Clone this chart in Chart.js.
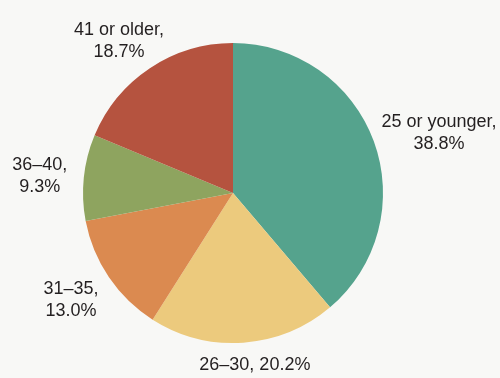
<!DOCTYPE html>
<html>
<head>
<meta charset="utf-8">
<script src="https://cdn.jsdelivr.net/npm/chart.js@4/dist/chart.umd.min.js"></script>
<style>
  html, body { margin: 0; padding: 0; background: #f8f8f6; }
  #wrap { width: 500px; height: 378px; position: relative; }
</style>
</head>
<body>
<div id="wrap"><canvas id="c" width="500" height="378"></canvas></div>
<script>
const categories = ["25 or younger", "26–30", "31–35", "36–40", "41 or older"];
const shares = [38.8, 20.2, 13.0, 9.3, 18.7];
const labelLines = [
  ["25 or younger,", "38.8%"],
  ["26–30, 20.2%"],
  ["31–35,", "13.0%"],
  ["36–40,", "9.3%"],
  ["41 or older,", "18.7%"]
];
const sliceColors = ["#55a38d", "#ecca7d", "#db8a50", "#8ea45f", "#b5533f"];

// label placement: angle tweak (degrees) relative to slice mid-angle, distance as ratio of radius
const labelPlacement = [
  { dAng: 4.0, k: 1.43 },
  { dAng: -3.3, k: 1.153 },
  { dAng: 0.8, k: 1.293 },
  { dAng: -0.9, k: 1.293 },
  { dAng: -3.2, k: 1.267 }
];

const outsideLabels = {
  id: 'outsideLabels',
  afterDatasetsDraw(chart) {
    const ctx = chart.ctx;
    const meta = chart.getDatasetMeta(0);
    ctx.save();
    ctx.fillStyle = '#231f20';
    ctx.font = '18px "Liberation Sans", Arial, sans-serif';
    ctx.textAlign = 'center';
    ctx.textBaseline = 'middle';
    meta.data.forEach((arc, i) => {
      const p = arc.getProps(['x', 'y', 'startAngle', 'endAngle', 'outerRadius'], true);
      const mid = (p.startAngle + p.endAngle) / 2 + labelPlacement[i].dAng * Math.PI / 180;
      const d = p.outerRadius * labelPlacement[i].k;
      const cx = p.x + Math.cos(mid) * d;
      const cy = p.y + Math.sin(mid) * d;
      const lines = labelLines[i];
      const lh = 22;
      const y0 = cy - (lines.length - 1) * lh / 2;
      lines.forEach((t, j) => ctx.fillText(t, cx, y0 + j * lh));
    });
    ctx.restore();
  }
};

new Chart(document.getElementById('c'), {
  type: 'pie',
  data: {
    labels: categories,
    datasets: [{
      data: shares,
      backgroundColor: sliceColors,
      borderWidth: 0
    }]
  },
  options: {
    responsive: false,
    animation: false,
    layout: { padding: { top: 43, bottom: 35, left: 83, right: 117 } },
    plugins: {
      legend: { display: false },
      tooltip: { enabled: false }
    }
  },
  plugins: [outsideLabels]
});
</script>
</body>
</html>
